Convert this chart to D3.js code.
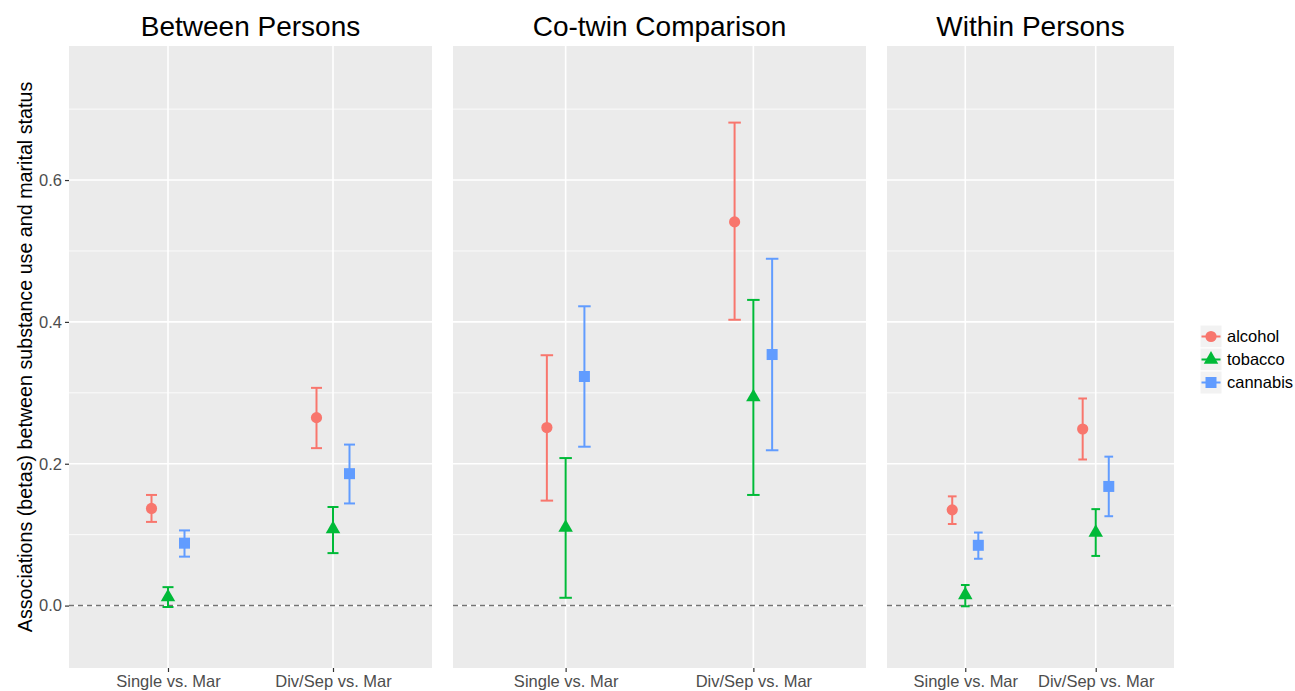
<!DOCTYPE html>
<html>
<head>
<meta charset="utf-8">
<script src="https://cdn.jsdelivr.net/npm/d3@7"></script>
<style>
  html, body { margin: 0; padding: 0; background: #ffffff; }
  svg { display: block; font-family: "Liberation Sans", Arial, Helvetica, sans-serif; }
</style>
</head>
<body>
<svg id="chart" width="1295" height="691"></svg>
<script>
// ---------------- data ----------------
const facets = ["Between Persons", "Co-twin Comparison", "Within Persons"];
const categories = ["Single vs. Mar", "Div/Sep vs. Mar"];
const substances = ["alcohol", "tobacco", "cannabis"];
const yTicks = [0.0, 0.2, 0.4, 0.6];
const yMinorTicks = [0.1, 0.3, 0.5, 0.7];

// per facet: [Single vs. Mar, Div/Sep vs. Mar]
const alcoholEst = [[0.137, 0.265], [0.251, 0.541], [0.135, 0.249]];
const alcoholLow = [[0.118, 0.222], [0.148, 0.403], [0.115, 0.206]];
const alcoholHigh = [[0.156, 0.307], [0.353, 0.681], [0.154, 0.292]];

const tobaccoEst = [[0.012, 0.108], [0.110, 0.294], [0.015, 0.103]];
const tobaccoLow = [[-0.002, 0.074], [0.011, 0.156], [-0.001, 0.070]];
const tobaccoHigh = [[0.026, 0.139], [0.208, 0.431], [0.029, 0.136]];

const cannabisEst = [[0.088, 0.186], [0.323, 0.354], [0.085, 0.168]];
const cannabisLow = [[0.069, 0.144], [0.224, 0.219], [0.066, 0.126]];
const cannabisHigh = [[0.106, 0.227], [0.422, 0.489], [0.103, 0.210]];

const yLabel = "Associations (betas) between substance use and marital status";

// ---------------- build rows ----------------
const seriesData = {
  alcohol: { est: alcoholEst, lo: alcoholLow, hi: alcoholHigh },
  tobacco: { est: tobaccoEst, lo: tobaccoLow, hi: tobaccoHigh },
  cannabis: { est: cannabisEst, lo: cannabisLow, hi: cannabisHigh }
};
const rows = [];
facets.forEach((f, fi) => {
  categories.forEach((c, ci) => {
    substances.forEach((s, si) => {
      rows.push({ facet: fi, cat: c, sub: s, si,
        est: seriesData[s].est[fi][ci], lo: seriesData[s].lo[fi][ci], hi: seriesData[s].hi[fi][ci] });
    });
  });
});

// ---------------- layout ----------------
const svg = d3.select("#chart");
const panelTop = 46, panelBottom = 668;
const panelX = [[69, 432], [453, 866], [887, 1174]];
const color = d3.scaleOrdinal().domain(substances).range(["#F8766D", "#00BA38", "#619CFF"]);
const y = d3.scaleLinear().domain([-0.088, 0.789]).range([panelBottom, panelTop]);

const tickFont = "16.5px";
const textGrey = "#4D4D4D";

function drawShape(g, sub, cx, cy) {
  const col = color(sub);
  if (sub === "alcohol") {
    g.append("circle").attr("cx", cx).attr("cy", cy).attr("r", 5.6).attr("fill", col);
  } else if (sub === "tobacco") {
    const h = 12.6, w = 14.5;
    const pts = [[cx, cy - h * 2 / 3], [cx + w / 2, cy + h / 3], [cx - w / 2, cy + h / 3]];
    g.append("polygon").attr("points", pts.map(p => p.join(",")).join(" ")).attr("fill", col);
  } else {
    const s = 11;
    g.append("rect").attr("x", cx - s / 2).attr("y", cy - s / 2).attr("width", s).attr("height", s).attr("fill", col);
  }
}

facets.forEach((fname, fi) => {
  const [x0, x1] = panelX[fi];
  const x = d3.scalePoint().domain(categories).range([x0, x1]).padding(0.6);
  const step = x.step();
  const g = svg.append("g");

  // panel background
  g.append("rect").attr("x", x0).attr("y", panelTop).attr("width", x1 - x0).attr("height", panelBottom - panelTop)
    .attr("fill", "#EBEBEB");

  // minor grid
  g.selectAll(".minor").data(yMinorTicks.filter(v => y(v) > panelTop && y(v) < panelBottom)).enter()
    .append("line").attr("x1", x0).attr("x2", x1).attr("y1", d => y(d)).attr("y2", d => y(d))
    .attr("stroke", "#ffffff").attr("stroke-width", 0.8);
  // major grid
  g.selectAll(".major").data(yTicks).enter()
    .append("line").attr("x1", x0).attr("x2", x1).attr("y1", d => y(d)).attr("y2", d => y(d))
    .attr("stroke", "#ffffff").attr("stroke-width", 1.6);
  g.selectAll(".vmajor").data(categories).enter()
    .append("line").attr("x1", d => x(d)).attr("x2", d => x(d)).attr("y1", panelTop).attr("y2", panelBottom)
    .attr("stroke", "#ffffff").attr("stroke-width", 1.6);

  // zero dashed line
  g.append("line").attr("x1", x0).attr("x2", x1).attr("y1", y(0)).attr("y2", y(0))
    .attr("stroke", "#737373").attr("stroke-width", 1.5).attr("stroke-dasharray", "5,4");

  // title
  g.append("text").attr("x", (x0 + x1) / 2).attr("y", 36).attr("text-anchor", "middle")
    .attr("font-size", "28px").attr("fill", "#000").text(fname);

  // x axis
  const xAxis = d3.axisBottom(x).tickSize(4).tickPadding(3);
  const ax = g.append("g").attr("transform", `translate(0,${panelBottom})`).call(xAxis);
  ax.select(".domain").remove();
  ax.selectAll(".tick line").attr("stroke", "#333333").attr("stroke-width", 1.2);
  ax.selectAll(".tick text").attr("font-size", tickFont).attr("fill", textGrey)
    .attr("font-family", '"Liberation Sans", Arial, sans-serif');

  // y axis only on first panel
  if (fi === 0) {
    const yAxis = d3.axisLeft(y).tickValues(yTicks).tickFormat(d3.format(".1f")).tickSize(4).tickPadding(3);
    const ay = g.append("g").attr("transform", `translate(${x0},0)`).call(yAxis);
    ay.select(".domain").remove();
    ay.selectAll(".tick line").attr("stroke", "#333333").attr("stroke-width", 1.2);
    ay.selectAll(".tick text").attr("font-size", tickFont).attr("fill", textGrey)
      .attr("font-family", '"Liberation Sans", Arial, sans-serif');
  }

  // marks
  const fr = rows.filter(r => r.facet === fi);
  const dodge = d => x(d.cat) + (d.si - 1) * 0.1 * step;
  const capHalf = (0.2 / 3) / 2 * step;
  fr.forEach(d => {
    const cx = dodge(d);
    const col = color(d.sub);
    const eg = g.append("g").attr("stroke", col).attr("stroke-width", 2).attr("fill", "none");
    eg.append("line").attr("x1", cx).attr("x2", cx).attr("y1", y(d.lo)).attr("y2", y(d.hi));
    eg.append("line").attr("x1", cx - capHalf).attr("x2", cx + capHalf).attr("y1", y(d.lo)).attr("y2", y(d.lo));
    eg.append("line").attr("x1", cx - capHalf).attr("x2", cx + capHalf).attr("y1", y(d.hi)).attr("y2", y(d.hi));
  });
  fr.forEach(d => drawShape(g, d.sub, dodge(d), y(d.est)));
});

// y axis label
svg.append("text").attr("transform", `translate(32,${(panelTop + panelBottom) / 2}) rotate(-90)`)
  .attr("text-anchor", "middle").attr("font-size", "19.7px").attr("fill", "#000").text(yLabel);

// legend
const legX = 1200, legY = 325, keyW = 22, keyH = 23;
const leg = svg.append("g");
substances.forEach((s, i) => {
  const ky = legY + i * keyH;
  leg.append("rect").attr("x", legX).attr("y", ky).attr("width", keyW).attr("height", keyH)
    .attr("fill", "#F2F2F2").attr("stroke", "#ffffff").attr("stroke-width", 1);
  leg.append("line").attr("x1", legX + 1.5).attr("x2", legX + keyW - 1.5).attr("y1", ky + keyH / 2).attr("y2", ky + keyH / 2)
    .attr("stroke", color(s)).attr("stroke-width", 2);
  drawShape(leg, s, legX + keyW / 2, ky + keyH / 2);
  leg.append("text").attr("x", legX + keyW + 5).attr("y", ky + keyH / 2).attr("dy", "0.35em")
    .attr("font-size", "16.5px").attr("fill", "#000").text(s);
});
</script>
</body>
</html>
